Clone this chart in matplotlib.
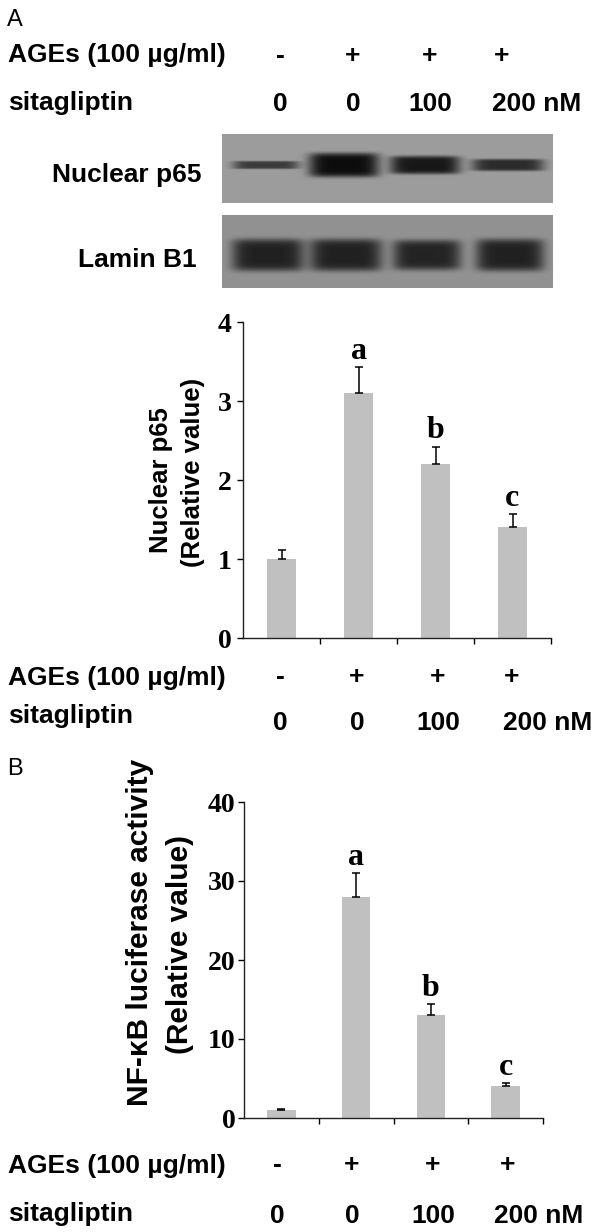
import numpy as np
import matplotlib
matplotlib.use("Agg")
import matplotlib.pyplot as plt

# Treatment conditions (same for every row of labels)
ages_signs = ["-", "+", "+", "+"]
sita_doses = ["0", "0", "100", "200 nM"]

# Panel A: nuclear p65 (relative value)
p65_mean = [1.0, 3.1, 2.2, 1.4]
p65_err = [0.11, 0.33, 0.22, 0.17]
p65_letters = ["", "a", "b", "c"]
p65_ticks = [0, 1, 2, 3, 4]

# Panel B: NF-kB luciferase activity (relative value)
nfkb_mean = [1.0, 28.0, 13.0, 4.0]
nfkb_err = [0.1, 3.0, 1.4, 0.4]
nfkb_letters = ["", "a", "b", "c"]
nfkb_ticks = [0, 10, 20, 30, 40]

# Western blot band darkness / thickness per lane (read by eye)
p65_band_dark = [0.38, 0.56, 0.52, 0.44]
p65_band_half_h = [4, 12, 9, 6]
lamin_band_dark = [0.44, 0.44, 0.43, 0.44]
lamin_band_half_h = [16, 16, 15, 16]

SANS = "Liberation Sans"
SERIF = "Liberation Serif"
BAR_COLOR = "#c0c0c0"
W, H = 600, 1232

fig = plt.figure(figsize=(W / 100, H / 100), dpi=100)
canvas = fig.add_axes([0, 0, 1, 1])
canvas.set_xlim(0, W)
canvas.set_ylim(H, 0)
canvas.axis("off")


def label(x, y, s, size=19, ha="left", va="baseline", weight="bold"):
    canvas.text(x, y, s, fontsize=size, fontweight=weight, family=SANS, ha=ha, va=va)


def condition_rows(y_ages, y_sign, y_sita, y_dose, sign_x, dose_x):
    label(8, y_ages, "AGEs (100 µg/ml)")
    label(8, y_sita, "sitagliptin")
    for x, s in zip(sign_x, ages_signs):
        label(x, y_sign, s, ha="center", va="center")
    for x, d in zip(dose_x, sita_doses):
        label(x, y_dose, d, ha="center")


def blot(left, right, top, bottom, dark, half_h, bg, lane_x, lane_half_w, band_y):
    w, h = right - left, bottom - top
    xx, yy = np.meshgrid(np.arange(w) + 0.5, np.arange(h) + 0.5)
    img = np.full((h, w), bg)
    for cx, hw, d, hh in zip(lane_x, lane_half_w, dark, half_h):
        prof = np.exp(-((xx - cx) / hw) ** 6) * np.exp(-((yy - band_y) / hh) ** 6)
        img -= d * prof
    canvas.imshow(img, cmap="gray", vmin=0, vmax=1, extent=(left, right, bottom, top),
                  aspect="auto", interpolation="bilinear")


def bar_panel(left, right, top, bottom, means, errs, letters, ticks, ypad):
    ax = fig.add_axes([left / W, 1 - bottom / H, (right - left) / W, (bottom - top) / H])
    x = np.arange(len(means))
    ax.bar(x, means, width=0.38, color=BAR_COLOR, zorder=2)
    ax.errorbar(x, means, yerr=[np.zeros(len(errs)), errs], fmt="none", ecolor="black",
                elinewidth=1.1, capsize=3, capthick=1.1, zorder=3)
    for xi, m, e, s in zip(x, means, errs, letters):
        if s:
            ax.annotate(s, (xi, m + e), xytext=(0, 6), textcoords="offset points",
                        ha="center", va="baseline", fontsize=23, fontweight="bold",
                        family=SERIF)
    ax.set_xlim(-0.5, len(means) - 0.5)
    ax.set_ylim(0, ticks[-1])
    ax.set_xticks(x + 0.5)
    ax.set_xticklabels([])
    ax.set_yticks(ticks)
    ax.set_yticklabels([str(t) for t in ticks], family=SERIF, fontweight="bold", fontsize=20)
    ax.tick_params(axis="x", direction="out", length=4, width=1)
    ax.tick_params(axis="y", direction="out", length=4, width=1, pad=ypad)
    for side in ["top", "right"]:
        ax.spines[side].set_visible(False)
    for side in ["left", "bottom"]:
        ax.spines[side].set_linewidth(1)
        ax.spines[side].set_color("#222222")
    ax.patch.set_alpha(0)
    return ax


# ---- Panel A ----
label(7, 26, "A", size=17, weight="normal")
condition_rows(62, 56, 110, 111, [280, 353, 430, 502], [280, 353, 430, 537])

blot(222, 553, 134, 203, p65_band_dark, p65_band_half_h, 0.61,
     [44, 122, 203, 286], [33, 35, 35, 36], 31)
blot(222, 553, 215, 288, lamin_band_dark, lamin_band_half_h, 0.57,
     [46, 124, 205, 288], [36, 36, 34, 34], 40)
label(127, 175, "Nuclear p65", ha="center", va="center")
label(137, 260, "Lamin B1", ha="center", va="center")

bar_panel(243, 551, 322, 638, p65_mean, p65_err, p65_letters, p65_ticks, 4)
canvas.text(161, 480, "Nuclear p65", fontsize=18.5, fontweight="bold", family=SANS,
            rotation=90, ha="center", va="center")
canvas.text(193, 472, "(Relative value)", fontsize=18.5, fontweight="bold", family=SANS,
            rotation=90, ha="center", va="center")
condition_rows(685, 677, 723, 730, [280, 357, 438, 512], [280, 357, 438, 548])

# ---- Panel B ----
label(7, 775, "B", size=17, weight="normal")
bar_panel(244, 543, 802, 1118, nfkb_mean, nfkb_err, nfkb_letters, nfkb_ticks, 2)
canvas.text(140, 932, "NF-κB luciferase activity", fontsize=21.5, fontweight="bold",
            family=SANS, rotation=90, ha="center", va="center")
canvas.text(180, 945, "(Relative value)", fontsize=21.5, fontweight="bold", family=SANS,
            rotation=90, ha="center", va="center")
condition_rows(1173, 1165, 1221, 1223, [277, 352, 433, 508], [277, 352, 433, 539])

fig.savefig("out.png", dpi=100)
